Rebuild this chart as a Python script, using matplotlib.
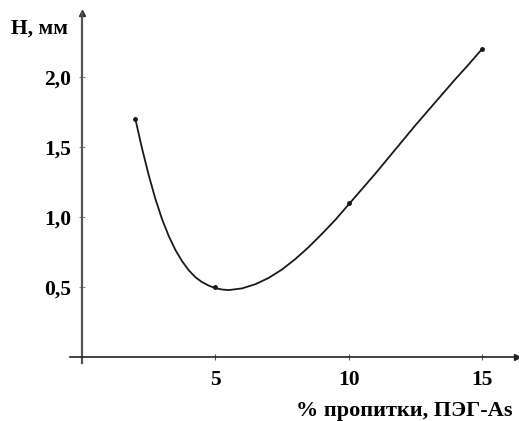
import matplotlib.pyplot as plt

plt.rcParams['font.family'] = ['Liberation Serif', 'DejaVu Serif']
plt.rcParams['font.weight'] = 'bold'

# measured points
pegs = [2, 5, 10, 15]
height = [1.7, 0.5, 1.1, 2.2]

# smooth curve
curve_x = [2.0, 2.25, 2.5, 2.75, 3.0, 3.25, 3.5, 3.75, 4.0, 4.25, 4.5, 4.75, 5.0, 5.25,
           5.5, 6.0, 6.5, 7.0, 7.5, 8.0, 8.5, 9.0, 9.5, 10.0, 10.5, 11.0, 11.5, 12.0,
           12.5, 13.0, 13.5, 14.0, 14.5, 15.0]
curve_y = [1.70, 1.49, 1.30, 1.13, 0.985, 0.865, 0.765, 0.685, 0.62, 0.57, 0.535, 0.51,
           0.492, 0.482, 0.478, 0.49, 0.52, 0.565, 0.625, 0.70, 0.785, 0.88, 0.98, 1.09,
           1.20, 1.31, 1.425, 1.54, 1.655, 1.765, 1.875, 1.985, 2.09, 2.20]

xticks = [5, 10, 15]
yticks = [0.5, 1.0, 1.5, 2.0]
ytick_labels = ['0,5', '1,0', '1,5', '2,0']

fig = plt.figure(figsize=(5.19, 4.21), dpi=100)
ax = fig.add_axes([0.1349, 0.1387, 0.8607, 0.8314])
ax.set_xlim(-0.45, 16.3)
ax.set_ylim(-0.04, 2.46)

ax.plot(curve_x, curve_y, color='#1a1a1a', lw=1.3, solid_joinstyle='round')
ax.plot(pegs, height, 'o', color='#1a1a1a', ms=2.5)

# axes as arrows through the origin
for side in ['top', 'right']:
    ax.spines[side].set_visible(False)
ax.spines['left'].set_position(('data', 0))
ax.spines['bottom'].set_position(('data', 0))
ax.spines['left'].set_color('#555555')
ax.spines['left'].set_linewidth(1.6)
ax.spines['bottom'].set_color('#222222')
ax.spines['bottom'].set_linewidth(1.2)
ax.plot(0, 1, '^', color='#333333', ms=5, transform=ax.get_xaxis_transform(), clip_on=False)
ax.plot(1, 0, '>', color='#222222', ms=5, transform=ax.get_yaxis_transform(), clip_on=False)

ax.set_xticks(xticks)
ax.set_xticklabels([str(t) for t in xticks])
ax.set_yticks(yticks)
ax.set_yticklabels(ytick_labels)
ax.tick_params(axis='x', direction='inout', length=5, width=0.8, color='#555555',
               pad=7, labelsize=15.5)
ax.tick_params(axis='y', direction='inout', length=5, width=0.8, color='#888888',
               pad=5, labelsize=15.5)

fig.text(0.077, 0.933, 'H, мм', ha='center', va='center', fontsize=15.5, fontweight='bold')
fig.text(0.779, 0.024, '% пропитки, ПЭГ-As', ha='center', va='center', fontsize=16,
         fontweight='bold')

fig.savefig('out.png', dpi=100)
